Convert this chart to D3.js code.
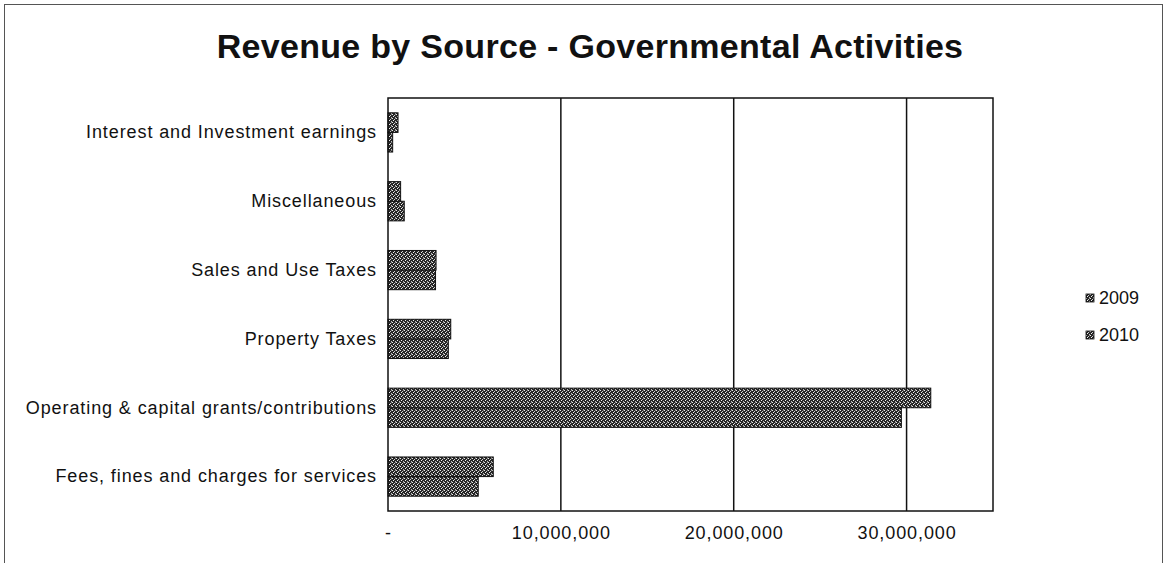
<!DOCTYPE html>
<html>
<head>
<meta charset="utf-8">
<script src="https://cdn.jsdelivr.net/npm/d3@7"></script>
<style>
  body { margin: 0; background: #fff; }
  text { font-family: "Liberation Sans", Arial, sans-serif; fill: #111; }
</style>
</head>
<body>
<div id="chart"></div>
<script>
var svgWidth = 1166;
var svgHeight = 563;
var margin = { top: 98, right: 173, bottom: 52, left: 388 };

var width = svgWidth - margin.left - margin.right;
var height = svgHeight - margin.top - margin.bottom;

// data, bottom to top like the original
var categories = [
  "Fees, fines and charges for services",
  "Operating & capital grants/contributions",
  "Property Taxes",
  "Sales and Use Taxes",
  "Miscellaneous",
  "Interest and Investment earnings"
];
var seriesNames = ["2009", "2010"];
var values2009 = [5220000, 29700000, 3490000, 2750000, 940000, 270000];
var values2010 = [6090000, 31400000, 3630000, 2780000, 730000, 580000];
var tickValues = [0, 10000000, 20000000, 30000000];

var svg = d3.select("#chart")
  .append("svg")
  .attr("width", svgWidth)
  .attr("height", svgHeight);

// dithered fill like the scanned bars
var defs = svg.append("defs");
var pat = defs.append("pattern")
  .attr("id", "dots")
  .attr("width", 4)
  .attr("height", 4)
  .attr("patternUnits", "userSpaceOnUse");
pat.append("rect").attr("width", 4).attr("height", 4).attr("fill", "#262626");
pat.append("rect").attr("x", 0).attr("y", 0).attr("width", 1).attr("height", 1).attr("fill", "#e8e8e8");
pat.append("rect").attr("x", 2).attr("y", 1).attr("width", 1).attr("height", 1).attr("fill", "#cfcfcf");
pat.append("rect").attr("x", 1).attr("y", 2).attr("width", 1).attr("height", 1).attr("fill", "#f0f0f0");
pat.append("rect").attr("x", 3).attr("y", 3).attr("width", 1).attr("height", 1).attr("fill", "#bdbdbd");
pat.append("rect").attr("x", 3).attr("y", 0).attr("width", 1).attr("height", 1).attr("fill", "#7a7a7a");

// outer frame (bottom edge is cut off in the original)
svg.append("rect")
  .attr("x", 4.5)
  .attr("y", 4.5)
  .attr("width", 1158)
  .attr("height", 580)
  .attr("fill", "none")
  .attr("stroke", "#555")
  .attr("stroke-width", 1);

svg.append("text")
  .attr("x", 590)
  .attr("y", 58)
  .attr("text-anchor", "middle")
  .style("font-size", "34px")
  .style("font-weight", "bold")
  .style("letter-spacing", "0.3px")
  .text("Revenue by Source - Governmental Activities");

var chartGroup = svg.append("g")
  .attr("transform", `translate(${margin.left}, ${margin.top})`);

var xLinearScale = d3.scaleLinear()
  .domain([0, 35000000])
  .range([0, width]);

var yBand = d3.scaleBand()
  .domain(categories.slice().reverse())
  .range([0, height])
  .paddingInner(0.43)
  .paddingOuter(0.215);

var ySub = d3.scaleBand()
  .domain(["2010", "2009"])
  .range([0, yBand.bandwidth()]);

// gridlines
chartGroup.selectAll(".grid")
  .data(tickValues.slice(1))
  .enter()
  .append("line")
  .attr("x1", d => xLinearScale(d))
  .attr("x2", d => xLinearScale(d))
  .attr("y1", 0)
  .attr("y2", height)
  .attr("stroke", "#111")
  .attr("stroke-width", 1.5);

// bars
var rows = categories.map((c, i) => ({ cat: c, v2009: values2009[i], v2010: values2010[i] }));
seriesNames.forEach(function(s) {
  chartGroup.selectAll(".bar" + s)
    .data(rows)
    .enter()
    .append("rect")
    .attr("x", 0)
    .attr("y", d => yBand(d.cat) + ySub(s))
    .attr("width", d => xLinearScale(d["v" + s]))
    .attr("height", ySub.bandwidth())
    .attr("fill", "url(#dots)")
    .attr("stroke", "#111")
    .attr("stroke-width", 1);
});

// plot border
chartGroup.append("rect")
  .attr("width", width)
  .attr("height", height)
  .attr("fill", "none")
  .attr("stroke", "#111")
  .attr("stroke-width", 1.5);

// x axis
var bottomAxis = d3.axisBottom(xLinearScale)
  .tickValues(tickValues)
  .tickSize(0)
  .tickPadding(15)
  .tickFormat(d => d === 0 ? "-" : d3.format(",")(d));
var xAxis = chartGroup.append("g")
  .attr("transform", `translate(0, ${height})`)
  .call(bottomAxis);
xAxis.select(".domain").remove();
xAxis.selectAll("text")
  .style("font-size", "18px")
  .style("letter-spacing", "0.9px")
  .attr("fill", "#111");

// y axis labels
var leftAxis = d3.axisLeft(yBand).tickSize(0).tickPadding(11);
var yAxis = chartGroup.append("g").call(leftAxis);
yAxis.select(".domain").remove();
yAxis.selectAll("text")
  .style("font-size", "18px")
  .style("letter-spacing", "0.9px")
  .attr("fill", "#111");

// legend
var legend = svg.append("g")
  .attr("transform", "translate(1086, 298)");
seriesNames.forEach(function(s, i) {
  var g = legend.append("g").attr("transform", `translate(0, ${i * 37})`);
  g.append("rect")
    .attr("x", 0)
    .attr("y", -4)
    .attr("width", 8)
    .attr("height", 8)
    .attr("fill", "url(#dots)")
    .attr("stroke", "#111")
    .attr("stroke-width", 0.8);
  g.append("text")
    .attr("x", 13)
    .attr("y", 6)
    .style("font-size", "18px")
    .text(s);
});
</script>
</body>
</html>
